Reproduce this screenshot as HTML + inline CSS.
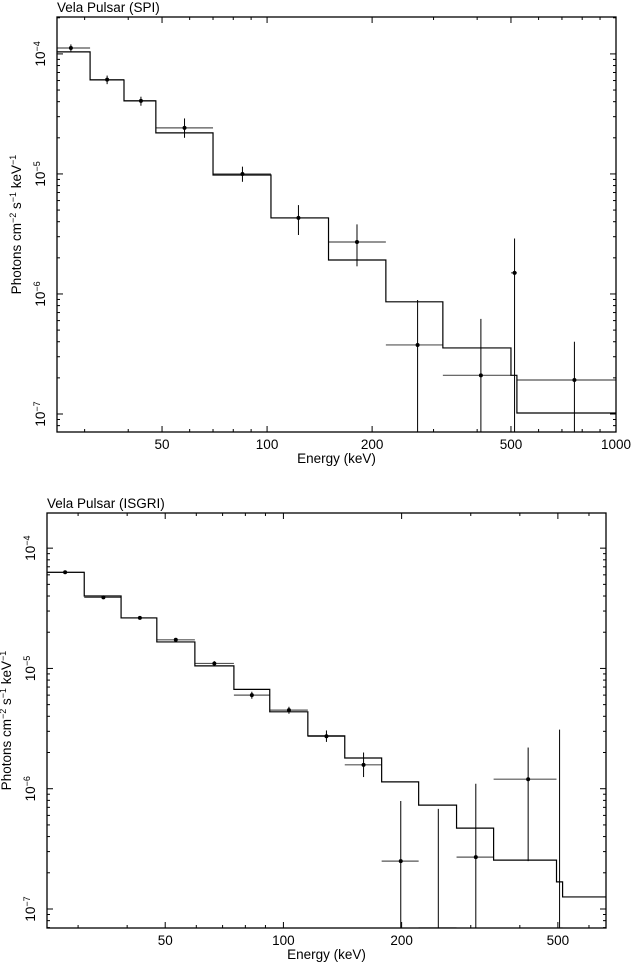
<!DOCTYPE html>
<html><head><meta charset="utf-8"><style>
body{margin:0;background:#fff;width:632px;height:965px;overflow:hidden}
svg{display:block;font-family:"Liberation Sans",sans-serif}
</style></head><body>
<svg id="c" width="632" height="965"></svg>
<script>
// SPI panel data
const spiEdges=[25,31.1,38.9,48,70,102.6,150,219,319,500,520,1000];
const spiModel=[1.04e-4,6.07e-5,4.06e-5,2.2e-5,9.8e-6,4.3e-6,1.92e-6,8.6e-7,3.55e-7,2.1e-7,1.02e-7];
const spiX=[27.4,34.8,43.5,58,85,123,181,270,410,512,760];
const spiVal=[1.12e-4,6.1e-5,4.06e-5,2.42e-5,1.0e-5,4.3e-6,2.71e-6,3.76e-7,2.1e-7,1.5e-6,1.92e-7];
const spiLo=[1.05e-4,5.6e-5,3.7e-5,2.0e-5,8.6e-6,3.1e-6,1.7e-6,1e-9,1e-9,1e-9,1e-9];
const spiHi=[1.2e-4,6.6e-5,4.4e-5,2.9e-5,1.15e-5,5.5e-6,3.8e-6,8.9e-7,6.2e-7,2.9e-6,4e-7];
// ISGRI panel data
const isgEdges=[25,31.1,38.6,47.6,59.5,74.8,92.3,115.4,143.3,177.9,221,276,343,496,514,663];
const isgModel=[6.3e-5,4.0e-5,2.63e-5,1.66e-5,1.05e-5,6.7e-6,4.36e-6,2.75e-6,1.8e-6,1.14e-6,7.3e-7,4.7e-7,2.55e-7,1.68e-7,1.26e-7];
const isgX=[27.8,34.8,43.1,53.2,66.7,83.1,103.3,128.7,160,199,248,309,420,505];
const isgVal=[6.3e-5,3.9e-5,2.63e-5,1.73e-5,1.1e-5,6.0e-6,4.5e-6,2.73e-6,1.58e-6,2.5e-7,1e-9,2.7e-7,1.2e-6,1e-9];
const isgLo=[6.1e-5,3.8e-5,2.55e-5,1.68e-5,1.05e-5,5.6e-6,4.2e-6,2.45e-6,1.25e-6,1e-9,1e-9,1e-9,2.5e-7,1e-9];
const isgHi=[6.5e-5,4.0e-5,2.71e-5,1.78e-5,1.15e-5,6.4e-6,4.8e-6,3.05e-6,2.0e-6,7.9e-7,6.8e-7,1.1e-6,2.2e-6,3.1e-6];
const spiXTicks=[50,100,200,500,1000];
const isgXTicks=[50,100,200,500];
const yTicks=[-4,-5,-6,-7];

const NS="http://www.w3.org/2000/svg";
const svg=document.getElementById('c');
const FS=13.5;
function mk(tag,attrs,parent){const e=document.createElementNS(NS,tag);for(const k in attrs)e.setAttribute(k,attrs[k]);(parent||svg).appendChild(e);return e;}

function panel(cfg){
  const g=mk('g',{});
  
  
  const {L,R,T,B,xmin,xmax,ymin,ymax}=cfg;
  const xs=v=>L+(Math.log10(v)-Math.log10(xmin))/(Math.log10(xmax)-Math.log10(xmin))*(R-L);
  const ys=v=>{const c=Math.max(v,ymin);return B-(Math.log10(c)-Math.log10(ymin))/(Math.log10(ymax)-Math.log10(ymin))*(B-T);};
  const cp='clip'+cfg.name;
  const cl=mk('clipPath',{id:cp},g);mk('rect',{x:L,y:T,width:R-L,height:B-T},cl);
  const t=mk('text',{x:L,y:T-5,'font-size':FS},g);t.textContent=cfg.title;
  
  
  for(let d=10;d<=1000;d*=10)for(let m=1;m<10;m++){const v=d*m;if(v<xmin||v>xmax)continue;
    const maj=cfg.xTicks.includes(v);const len=maj?6:3;const x=xs(v);
    mk('line',{x1:x,x2:x,y1:B,y2:B-len,stroke:'#000'},g);mk('line',{x1:x,x2:x,y1:T,y2:T+len,stroke:'#000'},g);}
  cfg.xTicks.forEach(v=>{const tx=mk('text',{x:xs(v),y:B+17,'font-size':FS,'text-anchor':'middle'},g);tx.textContent=v;
    
    });
  for(let e=-8;e<=-4;e++)for(let m=1;m<10;m++){const v=m*Math.pow(10,e);if(v<ymin||v>ymax)continue;
    const len=m==1?6:3;const y=ys(v);
    mk('line',{x1:L,x2:L+len,y1:y,y2:y,stroke:'#000'},g);mk('line',{x1:R,x2:R-len,y1:y,y2:y,stroke:'#000'},g);}
  yTicks.forEach(e=>{const y=ys(Math.pow(10,e));const tx=mk('text',{transform:`translate(${cfg.ylx},${y}) rotate(-90)`,'font-size':FS,'text-anchor':'middle'},g);
    tx.innerHTML='10<tspan dy="-5" font-size="9">\u2212'+(-e)+'</tspan>';
    
    });
  const xt=mk('text',{x:(L+R)/2,y:B+31,'font-size':FS,'text-anchor':'middle'},g);xt.textContent='Energy (keV)';
  
  
  const yt=mk('text',{transform:`translate(${cfg.ytx},${(T+B)/2}) rotate(-90)`,'font-size':FS,'text-anchor':'middle'},g);
  yt.innerHTML='Photons cm<tspan dy="-5" font-size="9">\u22122</tspan><tspan dy="5"> s</tspan><tspan dy="-5" font-size="9">\u22121</tspan><tspan dy="5"> keV</tspan><tspan dy="-5" font-size="9">\u22121</tspan>';
  
  
  const pg=mk('g',{'clip-path':`url(#${cp})`},g);
  cfg.val.forEach((v,i)=>{
    const hb=mk('line',{x1:xs(cfg.edges[i]),x2:xs(cfg.edges[i+1]),y1:ys(v),y2:ys(v),stroke:'#555','stroke-width':1.2},pg);
    
    
    const eb=mk('line',{x1:xs(cfg.px[i]),x2:xs(cfg.px[i]),y1:ys(cfg.lo[i])+(cfg.lo[i]<=ymin?5:0),y2:ys(cfg.hi[i]),stroke:'#000'},pg);
    
    
    if(v>ymin){const c=mk('circle',{cx:xs(cfg.px[i]),cy:ys(v),r:2,fill:'#000'},pg);
      
      }
  });
  let d='';cfg.model.forEach((v,i)=>{const x0=xs(cfg.edges[i]),x1=xs(cfg.edges[i+1]),y=ys(v);d+=(i==0?'M':'L')+x0+' '+y+' L'+x1+' '+y+' ';});
  const p=mk('path',{d,fill:'none',stroke:'#000','stroke-width':1.2},pg);
  
  
  const fr=mk('rect',{x:L,y:T,width:R-L,height:B-T,fill:'none',stroke:'#000','stroke-width':1.3},g);
  
  
}
panel({name:'spi-panel',title:'Vela Pulsar (SPI)',L:57,R:616,T:17,B:432,xmin:25,xmax:1000,ymin:7.08e-8,ymax:2.03e-4,
  edges:spiEdges,model:spiModel,px:spiX,val:spiVal,lo:spiLo,hi:spiHi,xTicks:spiXTicks,ylx:45,ytx:21});
panel({name:'isgri-panel',title:'Vela Pulsar (ISGRI)',L:47,R:606,T:513,B:928,xmin:25,xmax:663,ymin:6.95e-8,ymax:1.96e-4,
  edges:isgEdges,model:isgModel,px:isgX,val:isgVal,lo:isgLo,hi:isgHi,xTicks:isgXTicks,ylx:35,ytx:11});
</script>
</body></html>
